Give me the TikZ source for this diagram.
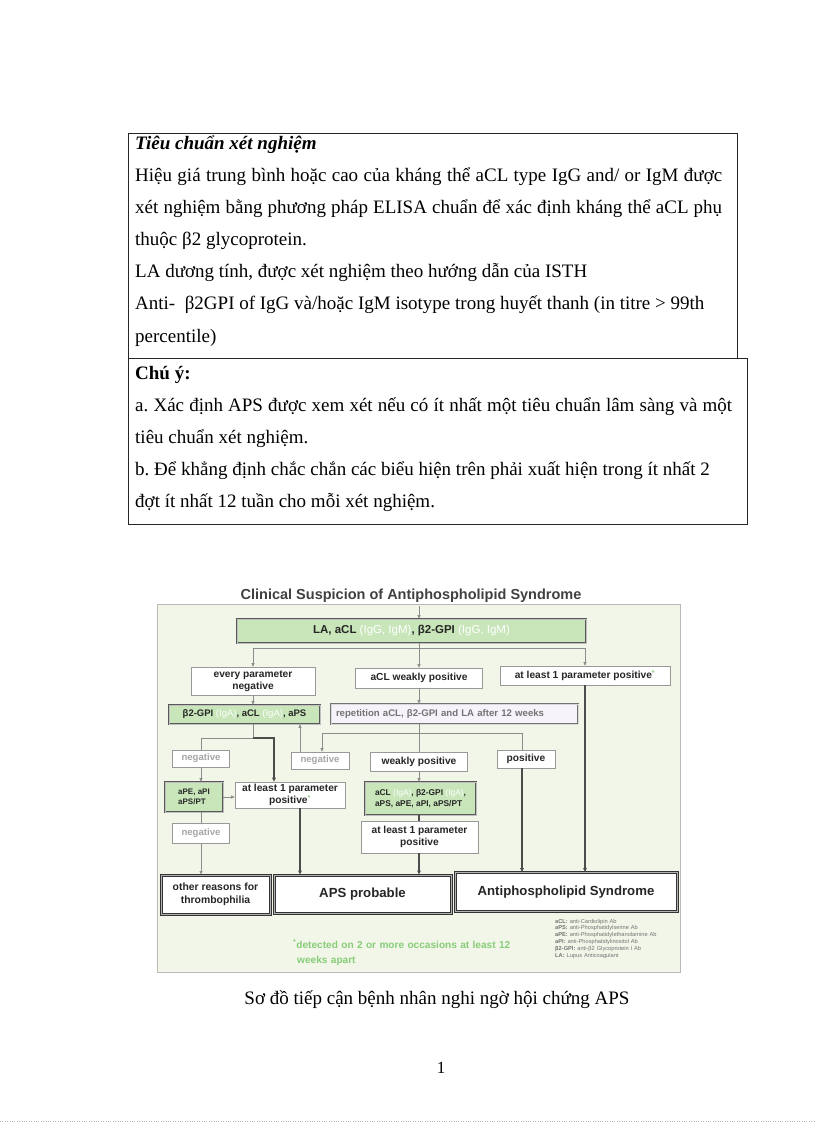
\documentclass[tikz,border=0pt]{standalone}
\usepackage{fontspec}
\setmainfont{Liberation Serif}
\newfontfamily\chartsans{Liberation Sans}
\usetikzlibrary{
  arrows.meta,
  positioning
}
\definecolor{chartbg}{RGB}{242,246,233}
\definecolor{chartframe}{RGB}{185,185,185}
\definecolor{labgreen}{RGB}{200,230,186}
\definecolor{repfill}{RGB}{246,244,250}
\definecolor{notegreen}{RGB}{135,205,120}
\frenchspacing
\tikzset{
  pagefont/.style={ font=\fontsize{19}{32}\selectfont },
  pagetext/.style={
    pagefont,
    align=justify,
    inner sep=0pt,
    anchor=base west
  },
  framebox/.style={
    draw=black!85,
    line width=0.8pt,
    inner sep=0pt,
    anchor=north west
  },
  chartbox/.style={
    draw=black!40,
    fill=white,
    line width=0.6pt,
    align=center,
    inner sep=1pt,
    text=black!85,
    font=\chartsans\bfseries\fontsize{10.2}{12.4}\selectfont
  },
  mutedbox/.style={
    chartbox,
    text=black!35,
    font=\chartsans\bfseries\fontsize{9.6}{11}\selectfont
  },
  labbox/.style={
    chartbox,
    fill=labgreen,
    draw=black!65,
    double=black!25,
    double distance=0.6pt
  },
  repbox/.style={
    chartbox,
    fill=repfill,
    draw=black!55,
    double=black!15,
    double distance=0.8pt,
    text=black!55,
    font=\chartsans\bfseries\fontsize{9.6}{11}\selectfont
  },
  endbox/.style={
    chartbox,
    draw=black!80,
    double=black!30,
    double distance=1pt,
    line width=1pt,
    font=\chartsans\bfseries\fontsize{13.2}{15}\selectfont
  },
  wire/.style={ draw=black!45, line width=0.6pt },
  wirearrow/.style={ wire, -{Triangle[length=3.5pt,width=3pt]} },
  heavy/.style={ draw=black!70, line width=1.1pt },
  heavyarrow/.style={ heavy, -{Triangle[length=4pt,width=3.5pt]} }
}

\begin{document}
\begin{tikzpicture}[x=1pt, y=-1pt]
  \useasboundingbox (0,0) rectangle (816,1123);

  % criteria text boxes
  \node[framebox, minimum width=609pt, minimum height=225pt] (critbox) at (128,133) {};
  \node[pagetext, text width=587pt] (crittext) at (135,150)
    {\textbf{\textit{Tiêu chuẩn xét nghiệm}}\\
     Hiệu giá trung bình hoặc cao của kháng thể aCL type IgG and/ or IgM được\linebreak
     xét nghiệm bằng phương pháp ELISA chuẩn để xác định kháng thể aCL phụ\linebreak
     thuộc β2 glycoprotein.\par
     LA dương tính, được xét nghiệm theo hướng dẫn của ISTH\par
     Anti-\ \ β2GPI of IgG và/hoặc IgM isotype trong huyết thanh (in titre > 99th\\
     percentile)};
  \node[framebox, minimum width=619pt, minimum height=166pt] (notebox) at (128,358) {};
  \node[pagetext, text width=597pt] (notetext) at (135,379)
    {\textbf{Chú ý:}\\
     a. Xác định APS được xem xét nếu có ít nhất một tiêu chuẩn lâm sàng và một\linebreak
     tiêu chuẩn xét nghiệm.\par
     b. Để khẳng định chắc chắn các biểu hiện trên phải xuất hiện trong ít nhất 2\\
     đợt ít nhất 12 tuần cho mỗi xét nghiệm.};

  % flowchart
  \node[draw=chartframe, fill=chartbg, line width=0.8pt, inner sep=0pt, anchor=north west,
        minimum width=523pt, minimum height=368pt] (chart) at (157,604) {};
  \node[font=\chartsans\bfseries\fontsize{14.5}{16}\selectfont, text=black!75] (title) at (411,596)
    {Clinical Suspicion of Antiphospholipid Syndrome};

  \node[labbox, minimum width=349pt, minimum height=24pt, font=\chartsans\bfseries\fontsize{11.5}{13}\selectfont] (screen) at (411.5,631)
    {LA, aCL {\color{white}\mdseries(IgG, IgM)}, β2-GPI {\color{white}\mdseries(IgG, IgM)}};

  \node[chartbox, minimum width=124pt, minimum height=28pt] (allneg) at (253,681) {every parameter\\negative};
  \node[chartbox, minimum width=127pt, minimum height=20pt] (weakacl) at (419,678) {aCL weakly positive};
  \node[chartbox, minimum width=170pt, minimum height=19pt] (anypos) at (585,675.5)
    {at least 1 parameter positive\textsuperscript{\color{notegreen}*}};

  \node[labbox, minimum width=151pt, minimum height=19pt, font=\chartsans\bfseries\fontsize{9.5}{11}\selectfont] (iga) at (244.5,714.5)
    {β2-GPI {\color{white}\mdseries(IgA)}, aCL {\color{white}\mdseries(IgA)}, aPS};
  \node[repbox, minimum width=247pt, minimum height=20pt, text width=237pt, align=left, inner xsep=5pt] (repeat) at (454.5,714)
    {repetition aCL, β2-GPI and LA after 12 weeks};

  \node[mutedbox, minimum width=57pt, minimum height=17pt] (neg1) at (201,758.5) {negative};
  \node[mutedbox, minimum width=58pt, minimum height=17pt] (neg2) at (320,760.5) {negative};
  \node[chartbox, minimum width=97pt, minimum height=19pt] (weakpos) at (419,761.5) {weakly positive};
  \node[chartbox, minimum width=58pt, minimum height=18pt] (pos) at (526,759) {positive};

  \node[labbox, minimum width=58pt, minimum height=30pt, align=left, font=\chartsans\bfseries\fontsize{8}{10}\selectfont] (ape) at (194,797)
    {aPE, aPI\\aPS/PT};
  \node[chartbox, minimum width=110pt, minimum height=26pt] (atleast1) at (290,795)
    {at least 1 parameter\\positive\textsuperscript{\color{notegreen}*}};
  \node[labbox, minimum width=111pt, minimum height=33pt, align=left, font=\chartsans\bfseries\fontsize{8.4}{10.5}\selectfont] (lab2) at (420.5,798.5)
    {aCL {\color{white}\mdseries(IgA)}, β2-GPI {\color{white}\mdseries(IgA)},\\aPS, aPE, aPI, aPS/PT};

  \node[mutedbox, minimum width=57pt, minimum height=20pt] (neg3) at (201,833) {negative};
  \node[chartbox, minimum width=117pt, minimum height=32pt] (atleast2) at (419.5,837) {at least 1 parameter\\positive};

  \node[endbox, minimum width=109pt, minimum height=39pt, font=\chartsans\bfseries\fontsize{10.4}{12.5}\selectfont] (other) at (215.5,894.5)
    {other reasons for\\thrombophilia};
  \node[endbox, minimum width=177pt, minimum height=38pt] (probable) at (362.5,894) {APS probable};
  \node[endbox, minimum width=222pt, minimum height=39pt] (apsbox) at (566,892) {Antiphospholipid Syndrome};

  \node[inner sep=0pt, anchor=base west, text width=240pt, align=left, text=notegreen,
        font=\chartsans\bfseries\fontsize{10.1}{15.5}\selectfont] (footnote) at (293,948)
    {\textsuperscript{*}detected on 2 or more occasions at least 12\\\hspace*{4pt}weeks apart};
  \node[inner sep=0pt, anchor=base west, text width=120pt, align=left, text=black!55,
        font=\chartsans\fontsize{5.7}{6.9}\selectfont] (legend) at (555,923)
    {\textbf{aCL:} anti-Cardiolipin Ab\\
     \textbf{aPS:} anti-Phosphatidylserine Ab\\
     \textbf{aPE:} anti-Phosphatidylethanolamine Ab\\
     \textbf{aPI:} anti-Phosphatidylinositol Ab\\
     \textbf{β2-GPI:} anti-β2 Glycoprotein I Ab\\
     \textbf{LA:} Lupus Anticoagulant};

  % connectors
  \coordinate (entry) at (419,606);
  \coordinate (fork) at (419,648);
  \coordinate (split) at (253,738);
  \coordinate (hook) at (274,738);
  \coordinate (fork2) at (419,733);
  \coordinate (colrise) at (300,0);
  \coordinate (coldrop) at (322,0);
  \coordinate (colpos) at (522,0);

  \draw[wirearrow] (entry) -- (entry |- screen.north);
  \draw[wire] (fork |- screen.south) -- (fork);
  \draw[wirearrow] (fork) -| (allneg.north);
  \draw[wirearrow] (fork) -- (weakacl.north);
  \draw[wirearrow] (fork) -| (anypos.north);
  \draw[wirearrow] (allneg.south) -- (allneg.south |- iga.north);
  \draw[wirearrow] (weakacl.south) -- (weakacl.south |- repeat.north);
  \draw[heavyarrow] (anypos.south) -- (anypos.south |- apsbox.north);

  \draw[wire] (split |- iga.south) -- (split);
  \draw[wire] (split) -| (neg1.north);
  \draw[heavyarrow] (split) -- (hook) -- (hook |- atleast1.north);
  \draw[wirearrow] (neg1.south) -- (neg1.south |- ape.north);
  \draw[wirearrow] (ape.east) -- (ape.east -| atleast1.west);
  \draw[wire] (neg1.south |- ape.south) -- (neg3.north);
  \draw[wirearrow] (neg3.south) -- (neg3.south |- other.north);
  \draw[wirearrow] (colrise |- neg2.north) -- (colrise |- iga.south);
  \draw[heavyarrow] (colrise |- atleast1.south) -- (colrise |- probable.north);

  \draw[wire] (fork2 |- repeat.south) -- (fork2 |- weakpos.north);
  \draw[wire] (coldrop |- fork2) -- (colpos |- fork2);
  \draw[wirearrow] (coldrop |- fork2) -- (coldrop |- neg2.north);
  \draw[wire] (colpos |- fork2) -- (colpos |- pos.north);
  \draw[heavyarrow] (colpos |- pos.south) -- (colpos |- apsbox.north);
  \draw[wirearrow] (weakpos.south) -- (weakpos.south |- lab2.north);
  \draw[heavy] (weakpos.south |- lab2.south) -- (weakpos.south |- atleast2.north);
  \draw[heavyarrow] (weakpos.south |- atleast2.south) -- (weakpos.south |- probable.north);

  % caption and page number
  \node[anchor=base, font=\fontsize{19}{21}\selectfont] (caption) at (437,1004)
    {Sơ đồ tiếp cận bệnh nhân nghi ngờ hội chứng APS};
  \node[anchor=base, font=\fontsize{17}{19}\selectfont] (pagenum) at (441,1073) {1};
  \draw[black!30, dotted] (0,1121) -- (816,1121);
\end{tikzpicture}
\end{document}
